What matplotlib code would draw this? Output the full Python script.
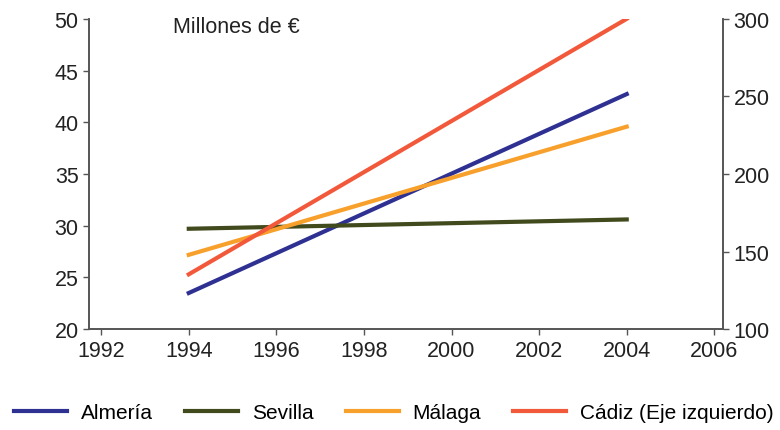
import matplotlib.pyplot as plt

years = [1994, 2004]
almeria = [123.3, 251.5]
sevilla = [164.7, 170.7]
malaga = [147.9, 230.5]
cadiz = [25.3, 50.0]  # eje izquierdo

left_ticks = [20, 25, 30, 35, 40, 45, 50]
right_ticks = [100, 150, 200, 250, 300]
x_ticks = [1992, 1994, 1996, 1998, 2000, 2002, 2004, 2006]

plt.rcParams['font.family'] = ['Liberation Sans', 'DejaVu Sans']

fig = plt.figure(figsize=(7.8, 4.31), dpi=100)
ax = fig.add_axes([0.114, 0.234, 0.813, 0.72])
ax2 = ax.twinx()

lw = 3.0
l1, = ax2.plot(years, almeria, color='#2f3192', lw=lw, label='Almería')
l2, = ax2.plot(years, sevilla, color='#404a1c', lw=lw, label='Sevilla')
l3, = ax2.plot(years, malaga, color='#f8a02c', lw=lw, label='Málaga')
# Cádiz va en el eje izquierdo, dibujado por encima
ax.set_zorder(ax2.get_zorder() + 1)
ax.patch.set_visible(False)
l4, = ax.plot(years, cadiz, color='#f2593b', lw=lw, label='Cádiz (Eje izquierdo)')

ax.set_xlim(1991.72, 2006.2)
ax.set_ylim(20, 50)
ax2.set_ylim(100, 300)
ax.set_xticks(x_ticks)
ax.set_yticks(left_ticks)
ax2.set_yticks(right_ticks)

for a in (ax, ax2):
    a.spines['top'].set_visible(False)
    for s in ('left', 'right', 'bottom'):
        a.spines[s].set_color('#555555')
        a.spines[s].set_linewidth(1.2)
    a.tick_params(colors='#555555', labelcolor='#222222', labelsize=15.5, length=4, width=1)

ax.text(0.132, 0.975, 'Millones de €', transform=ax.transAxes, fontsize=15.5,
        color='#222222', va='center', ha='left')

fig.legend(handles=[l1, l2, l3, l4], loc='center', bbox_to_anchor=(0.505, 0.04),
           ncol=4, frameon=False, fontsize=15, handlelength=2.55, columnspacing=1.55,
           handletextpad=0.65, borderpad=0.1, borderaxespad=0)

fig.savefig('out.png', dpi=100)
